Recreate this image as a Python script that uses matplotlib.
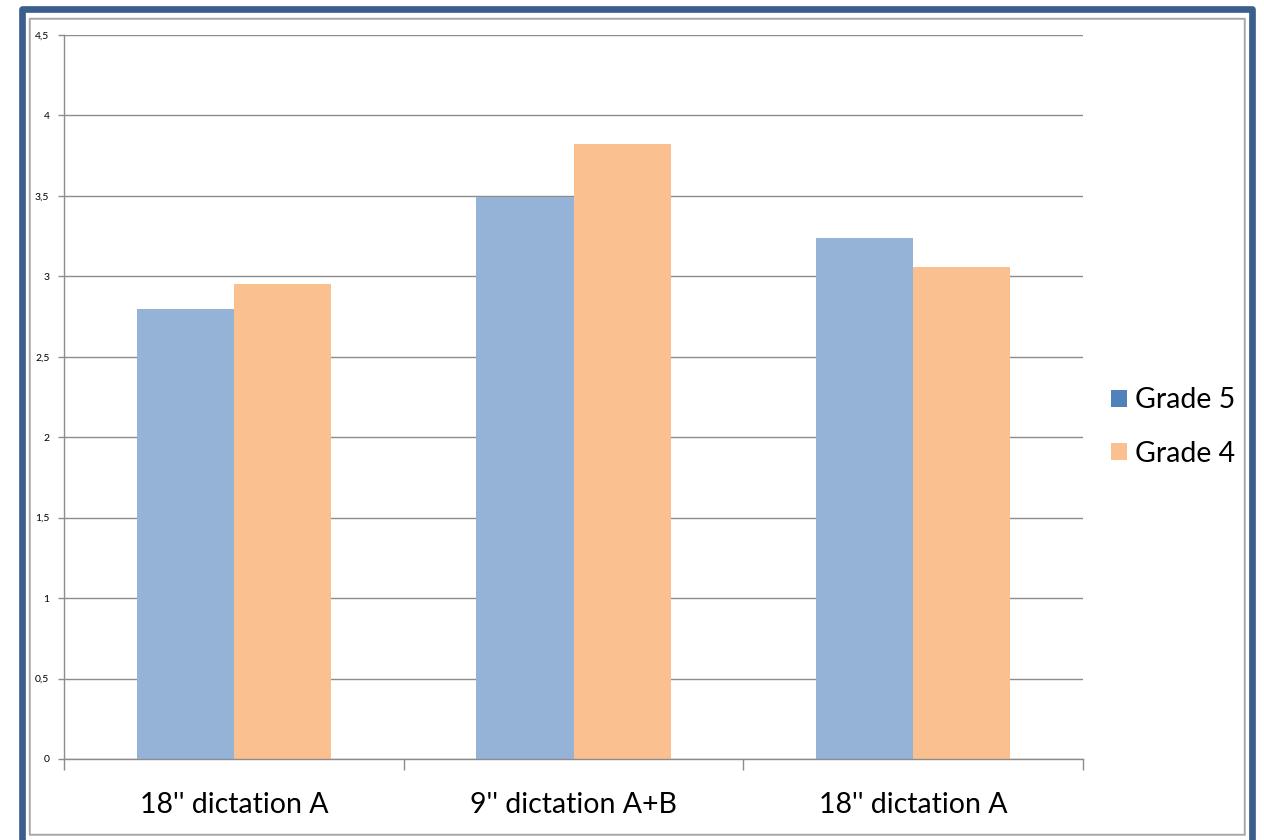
import numpy as np
import matplotlib.pyplot as plt
from matplotlib.patches import Rectangle, Patch
from matplotlib.ticker import FuncFormatter, FixedLocator

categories = ["18'' dictation A", "9'' dictation A+B", "18'' dictation A"]
grade5 = [2.80, 3.49, 3.24]
grade4 = [2.95, 3.82, 3.06]
series_names = ["Grade 5", "Grade 4"]

plt.rcParams['font.family'] = ['Lato', 'DejaVu Sans']

fig = plt.figure(figsize=(12.64, 8.4), dpi=100)
W, H = 1264, 840

# outer frame (blue) and inner thin grey frame, drawn in pixel units
def px_rect(x0, y0, x1, y1, **kw):
    return Rectangle((x0 / W, 1 - y1 / H), (x1 - x0) / W, (y1 - y0) / H,
                     transform=fig.transFigure, fill=False, **kw)

fig.patches.append(px_rect(22, 9, 1251.5, 860, edgecolor='#3a5f8c', lw=4.8,
                           joinstyle='round'))
fig.patches.append(px_rect(30, 19, 1245, 835, edgecolor='#c4c4c4', lw=1.4))
fig.patches.append(px_rect(29, 17.5, 1243.5, 834, edgecolor='#a6a6a6', lw=1.0))

ax = fig.add_axes([64 / W, 1 - 759 / H, (1083 - 64) / W, (759 - 35) / H])

x = np.arange(len(categories))
w = 0.286
ax.bar(x - w / 2, grade5, width=w, color='#95b3d7', linewidth=0, zorder=2)
ax.bar(x + w / 2, grade4, width=w, color='#fac090', linewidth=0, zorder=2)

ax.set_xlim(-0.5, len(categories) - 0.5)
ax.set_ylim(0, 4.5)

ax.yaxis.set_major_locator(FixedLocator(np.arange(0, 4.51, 0.5)))
ax.yaxis.set_major_formatter(FuncFormatter(lambda v, p: ('%g' % v).replace('.', ',')))
ax.grid(axis='y', color='#8c8c8c', lw=1.0, zorder=0)
ax.set_axisbelow(True)

ax.set_xticks(x)
ax.set_xticklabels(categories, fontsize=20.5)
ax.set_xticks(np.arange(-0.5, len(categories), 1.0), minor=True)
ax.tick_params(axis='x', which='major', length=0, pad=24)
ax.tick_params(axis='x', which='minor', length=8, color='#8c8c8c', width=1)
ax.tick_params(axis='y', length=4.5, color='#8c8c8c', width=1, labelsize=7.5, pad=6)

for s in ['top', 'right']:
    ax.spines[s].set_visible(False)
for s in ['left', 'bottom']:
    ax.spines[s].set_color('#8c8c8c')
    ax.spines[s].set_linewidth(1)

handles = [Patch(facecolor='#4f81bd', edgecolor='none'),
           Patch(facecolor='#fac090', edgecolor='none')]
fig.legend(handles, series_names, loc='center left',
           bbox_to_anchor=(1097 / W, 1 - 427 / H), frameon=False,
           fontsize=20.5, handlelength=0.55, handleheight=0.55,
           handletextpad=0.3, labelspacing=0.95, borderpad=0)

fig.savefig('out.png', dpi=100)
